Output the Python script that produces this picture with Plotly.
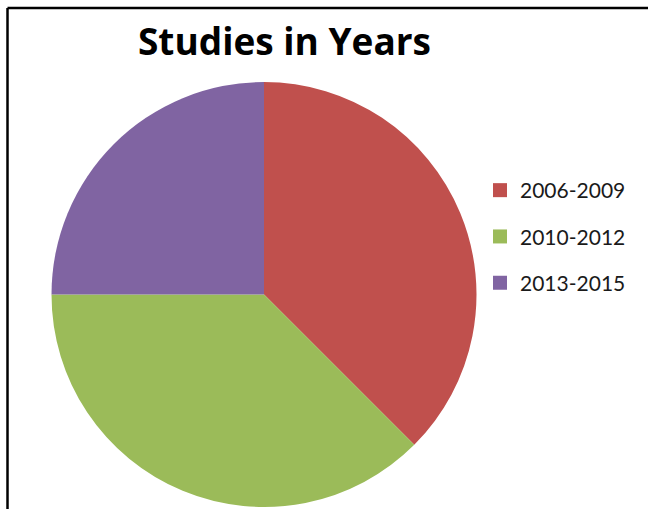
import plotly.graph_objects as go

categories = ["2006-2009", "2010-2012", "2013-2015"]
studies = [3, 3, 2]
colors = ["#C0504D", "#9BBB59", "#8064A2"]

W, H = 648, 509

fig = go.Figure()

fig.add_trace(go.Pie(
    labels=categories,
    values=studies,
    marker=dict(colors=colors, line=dict(width=0)),
    sort=False,
    direction="clockwise",
    rotation=0,
    textinfo="none",
    hoverinfo="label+value+percent",
    showlegend=False,
    domain=dict(x=[51.5 / W, 476.5 / W], y=[2 / H, 427 / H]),
))

# legend entries (one group each so spacing can be set)
for cat, col in zip(categories, colors):
    fig.add_trace(go.Scatter(
        x=[None], y=[None], mode="markers", name=cat,
        legendgroup=cat,
        marker=dict(symbol="square", size=14, color=col),
    ))

fig.update_layout(
    width=W, height=H,
    margin=dict(l=0, r=0, t=0, b=0),
    paper_bgcolor="white",
    plot_bgcolor="white",
    xaxis=dict(visible=False),
    yaxis=dict(visible=False),
    title=dict(
        text="<b>Studies in Years</b>",
        x=284.5 / W, xanchor="center",
        y=1 - 42 / H, yanchor="middle",
        font=dict(family="Open Sans", size=37, color="black"),
    ),
    legend=dict(
        x=480 / W, xanchor="left",
        y=1 - 170 / H, yanchor="top",
        font=dict(family="Lato", size=21, color="#1a1a1a"),
        tracegroupgap=16,
        bgcolor="rgba(0,0,0,0)",
    ),
    shapes=[
        dict(type="line", xref="paper", yref="paper",
             x0=7.5 / W, x1=1.0, y0=1 - 8 / H, y1=1 - 8 / H,
             line=dict(color="black", width=2.5)),
        dict(type="line", xref="paper", yref="paper",
             x0=7.5 / W, x1=7.5 / W, y0=0.0, y1=1 - 8 / H,
             line=dict(color="black", width=2.5)),
    ],
)

fig.write_html("out.html", config={"displayModeBar": False},
               post_script="document.body.style.margin='0';")
